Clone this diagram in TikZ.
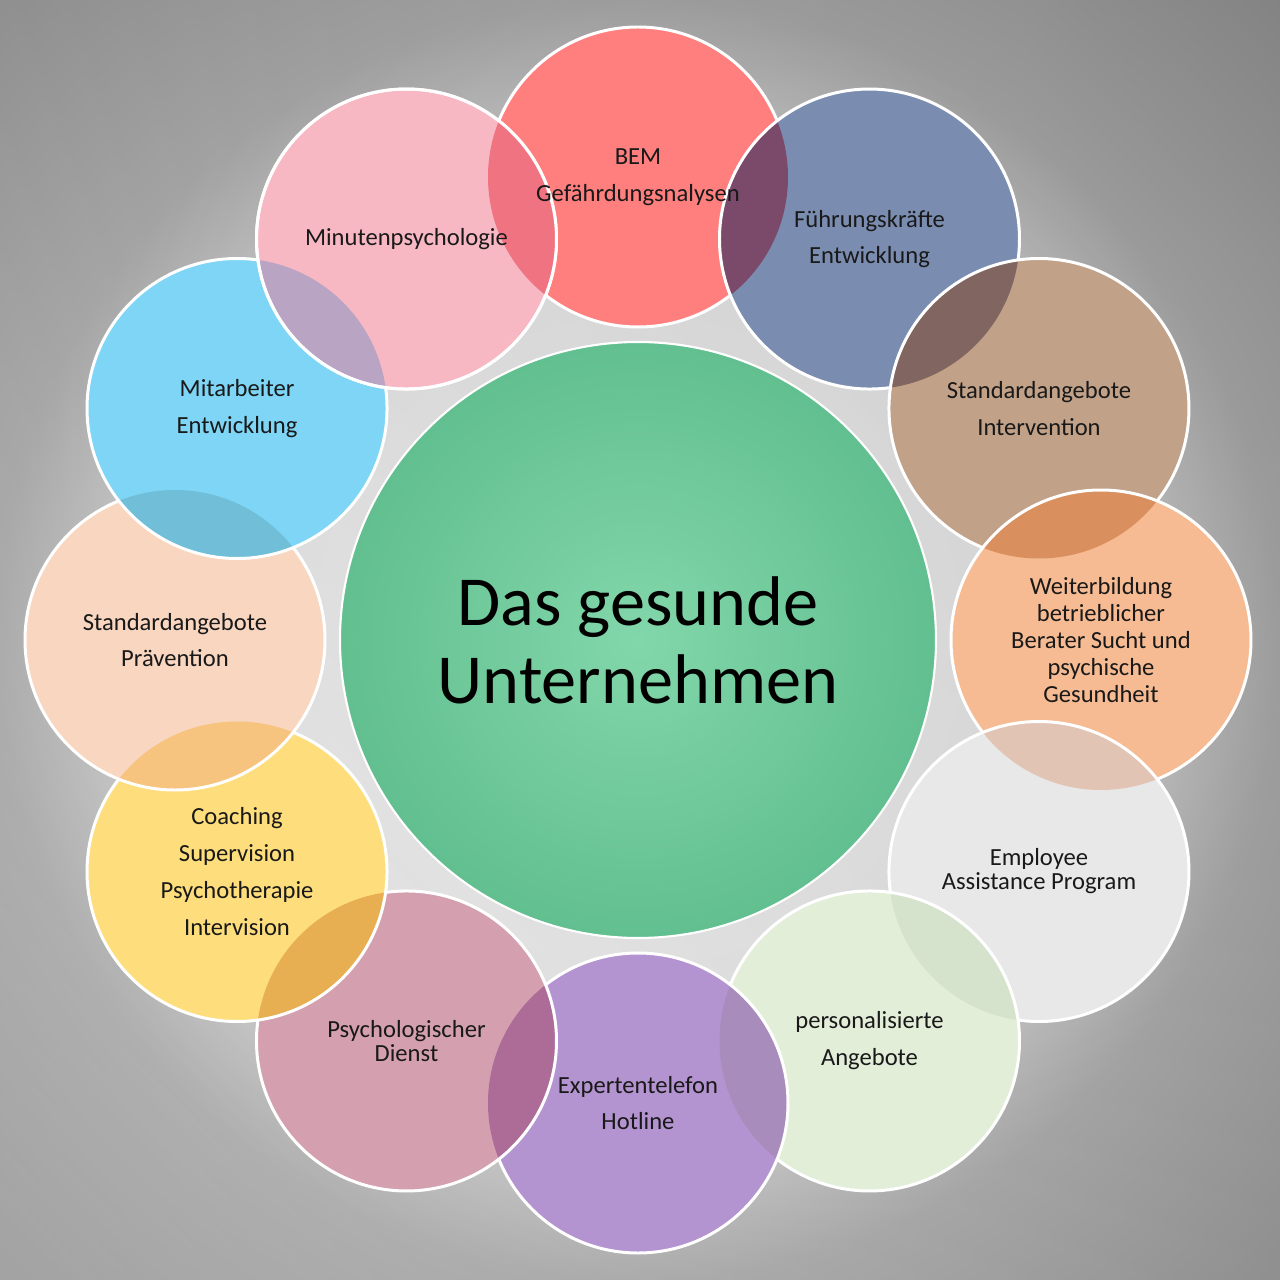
\documentclass[tikz,border=0pt]{standalone}
\usepackage{fontspec}
\setmainfont{Carlito}
\usetikzlibrary{shadings}

% background greys
\definecolor{bgA}{HTML}{F0F0F0}
\definecolor{bgB}{HTML}{E8E8E8}
\definecolor{bgC}{HTML}{A8A8A8}
\definecolor{bgD}{HTML}{919191}
\pgfdeclareradialshading{bgglow}{\pgfpoint{0bp}{0bp}}{color(0bp)=(bgA); color(10bp)=(bgB); color(16bp)=(bgC); color(23bp)=(bgD); color(50bp)=(bgD)}

% bubble fills and overlap (lens) colours
\definecolor{bemC}{HTML}{FF7F7F}
\definecolor{fuehrC}{HTML}{7A8DB0}  \definecolor{fuehrL}{HTML}{7B4A6A}
\definecolor{intC}{HTML}{C2A189}    \definecolor{intL}{HTML}{806560}
\definecolor{weitC}{HTML}{F6BB92}   \definecolor{weitL}{HTML}{D98F5E}
\definecolor{eapC}{HTML}{E8E8E9}    \definecolor{eapL}{HTML}{E2C4B4}
\definecolor{angC}{HTML}{E2EED8}    \definecolor{angL}{HTML}{D5E2CC}
\definecolor{hotC}{HTML}{B494D0}    \definecolor{hotL}{HTML}{A78CBC}
\definecolor{dienC}{HTML}{D4A0B0}   \definecolor{dienL}{HTML}{AD6C98}
\definecolor{coachC}{HTML}{FEDE7C}  \definecolor{coachL}{HTML}{E8AF52}
\definecolor{praevC}{HTML}{F8D6C0}  \definecolor{praevL}{HTML}{F6C47E}
\definecolor{mitC}{HTML}{7ED5F5}    \definecolor{mitL}{HTML}{70BED8}
\definecolor{minC}{HTML}{F8B8C3}    \definecolor{minL}{HTML}{B9A5C3}
\definecolor{minBemL}{HTML}{F07382}
\definecolor{coreIn}{HTML}{82D7AA}
\definecolor{coreOut}{HTML}{62BF8F}

\newcommand{\ringR}{9.26}

\begin{document}
\begin{tikzpicture}[
    rim/.style={draw=white, line width=1.7pt},
    tag/.style={align=center, text=black!90, font=\fontsize{14}{21}\selectfont},
    tagtight/.style={tag, font=\fontsize{14}{15.3}\selectfont},
    tagsnug/.style={tag, font=\fontsize{14}{13.6}\selectfont},
    core/.style={circle, minimum size=11.92cm, draw=white, line width=1.2pt,
      inner color=coreIn, outer color=coreOut, align=center,
      font=\fontsize{40}{44.3}\selectfont}
  ]
    \useasboundingbox (-12.76,-12.8) rectangle (12.84,12.8);
    \clip (-12.76,-12.8) rectangle (12.84,12.8);

    % background
    \shade[shading=bgglow] (0,0) circle (20);
    \shade[opacity=0.15, upper left=gray!100!white, upper right=black!80,
      lower left=white, lower right=gray] (-12.76,-12.8) rectangle (12.84,12.8);

    % bubbles, clockwise from the top
    \foreach \ang/\fillc/\lensc [remember=\ang as \prev (initially 90)] in
      {90/bemC/bemC, 60/fuehrC/fuehrL, 30/intC/intL, 0/weitC/weitL,
       -30/eapC/eapL, -60/angC/angL, -90/hotC/hotL, -120/dienC/dienL,
       -150/coachC/coachL, 180/praevC/praevL, 150/mitC/mitL, 120/minC/minL}
    {
      \fill[\fillc] (\ang:\ringR) circle (3);
      \begin{scope}
        \clip (\prev:\ringR) circle (3);
        \fill[\lensc] (\ang:\ringR) circle (3);
      \end{scope}
      \draw[rim] (\ang:\ringR) circle (3);
    }
    % last bubble over the first one
    \begin{scope}
      \clip (90:\ringR) circle (3);
      \fill[minBemL] (120:\ringR) circle (3);
    \end{scope}
    \draw[rim] (120:\ringR) circle (3);

    \node[core] (core) at (0,0) {Das gesunde\\Unternehmen};

    \node[tag] (bem) at (90:\ringR) {BEM\\Gefährdungsnalysen};
    \node[tag] (fuehrung) at (60:\ringR) {Führungskräfte\\Entwicklung};
    \node[tag] (intervention) at (30:\ringR) {Standardangebote\\Intervention};
    \node[tagtight] (weiterbildung) at (0:\ringR) {Weiterbildung\\betrieblicher\\Berater Sucht und\\psychische\\Gesundheit};
    \node[tagsnug] (eap) at (-30:\ringR) {Employee\\Assistance Program};
    \node[tag] (angebote) at (-60:\ringR) {personalisierte\\Angebote};
    \node[tag] (hotline) at (-90:\ringR) {Expertentelefon\\Hotline};
    \node[tagsnug] (dienst) at (-120:\ringR) {Psychologischer\\Dienst};
    \node[tag] (coaching) at (-150:\ringR) {Coaching\\Supervision\\Psychotherapie\\Intervision};
    \node[tag] (praevention) at (180:\ringR) {Standardangebote\\Prävention};
    \node[tag] (mitarbeiter) at (150:\ringR) {Mitarbeiter\\Entwicklung};
    \node[tag] (minuten) at (120:\ringR) {Minutenpsychologie};
  \end{tikzpicture}
\end{document}
